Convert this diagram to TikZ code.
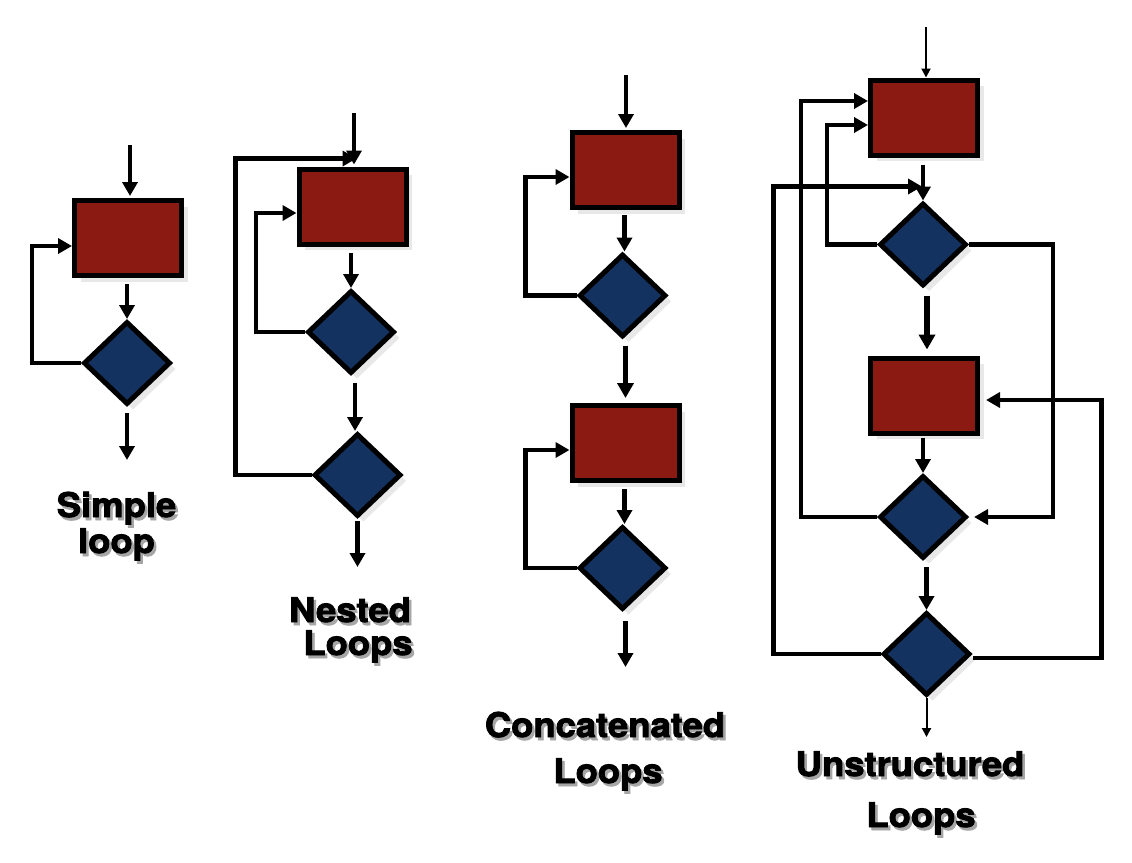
\documentclass[tikz,border=0pt]{standalone}
\usepackage{fontspec}
\setmainfont{TeX Gyre Heros}
\newfontfamily\lblfont{texgyreheros-bold.otf}[FakeBold=2.4]
\usetikzlibrary{shapes.geometric,arrows.meta,shadows,calc}
\definecolor{boxred}{RGB}{139,26,19}
\definecolor{diablue}{RGB}{19,50,95}
\definecolor{shadowgray}{RGB}{232,232,232}
\tikzset{
  boxshadow/.style={drop shadow={shadow xshift=6pt, shadow yshift=-6pt, fill=shadowgray, opacity=1}},
  procbox/.style={rectangle, draw=black, line width=5pt, fill=boxred,
    minimum width=107pt, minimum height=75pt, inner sep=0pt, boxshadow},
  decide/.style={diamond, draw=black, line width=5pt, fill=diablue, line join=miter,
    minimum width=87pt, minimum height=83pt, inner sep=0pt, boxshadow},
  conn/.style={line width=4.8pt, line join=miter, -{Triangle[length=14pt,width=15pt]}},
  thickconn/.style={line width=5.5pt, -{Triangle[length=15pt,width=16pt]}},
  thinconn/.style={line width=2pt, -{Triangle[length=9pt,width=9pt]}},
  lbl/.style={font=\lblfont\fontsize{34}{34}\selectfont, anchor=base, inner sep=0pt},
  lblshadow/.style={lbl, text=black!35},
}
\newcommand\mylbl[4]{%
  \node[lblshadow] (#1-sh) at (#2+2.5,#3+3) {\scalebox{1.07}[1]{#4}};
  \node[lbl] (#1) at (#2,#3) {\scalebox{1.07}[1]{#4}};}
\begin{document}
\begin{tikzpicture}[x=1pt,y=-1pt]
\useasboundingbox (0,0) rectangle (1132,862);
\fill[white] (0,0) rectangle (1132,862);

% ---------- Simple loop ----------
\node[procbox] (r1) at (128,238) {};
\node[decide] (d1) at (127,363) {};
\coordinate (in1) at (130,145);
\draw[conn, shorten >=2pt] (in1) -- (in1 |- r1.north);
\draw[conn] ($(r1.south -| d1.north)+(0,6)$) -- (d1.north);
\draw[conn] (d1.west) -- ++(-49,0) |- ([yshift=-8pt]r1.west);
\draw[conn] ([yshift=-6pt]d1.south) -- ++(0,47);
\mylbl{l1a}{116.5}{517}{Simple}
\mylbl{l1b}{116.5}{553}{loop}

% ---------- Nested loops ----------
\node[procbox] (r2) at (352.5,206.5) {};
\node[decide] (d2a) at (351,332) {};
\node[decide] (d2b) at (357.5,475) {};
\coordinate (in2) at (354,113);
\draw[conn, shorten >=2pt] (in2) -- (in2 |- r2.north);
\draw[conn] ($(r2.south -| d2a.north)+(0,6)$) -- (d2a.north);
\draw[conn] (d2a.west) -- ++(-49,0) |- ([yshift=-6.5pt]r2.west);
\draw[conn] ($(d2a.south -| d2b.north)+(-2.5,7)$) -- ($(d2b.north)+(-2.5,0)$);
\draw[conn] (d2b.west) -- ++(-76,0) |- ([xshift=4pt,yshift=8pt]r2.north);
\draw[conn] ([yshift=-2pt]d2b.south) -- ++(0,46);
\mylbl{l2a}{350}{622}{Nested}
\mylbl{l2b}{358}{655}{Loops}

% ---------- Concatenated loops ----------
\node[procbox] (r3a) at (625.5,170) {};
\node[decide] (d3a) at (622.5,295.5) {};
\node[procbox] (r3b) at (625.5,443) {};
\node[decide] (d3b) at (622.5,568) {};
\coordinate (in3) at (626,75);
\draw[conn, shorten >=2pt] (in3) -- (in3 |- r3a.north);
\draw[conn] ($(r3a.south -| d3a.north)+(2,5)$) -- ($(d3a.north)+(2,0)$);
\draw[conn] (d3a.west) -- ++(-51,0) |- ([yshift=-7pt]r3a.west);
\draw[thickconn] ($(d3a.south -| r3b.north)+(0,6)$) -- ([yshift=5pt]r3b.north);
\draw[conn] ($(r3b.south -| d3b.north)+(2,6)$) -- ($(d3b.north)+(2,0)$);
\draw[conn] (d3b.west) -- ++(-51,0) |- ([yshift=-7pt]r3b.west);
\draw[conn] ($(d3b.south)+(3,9)$) -- ++(0,46);
\mylbl{l3a}{605}{737}{Concatenated}
\mylbl{l3b}{608}{783}{Loops}

% ---------- Unstructured loops ----------
\node[procbox] (r4a) at (924,117.5) {};
\node[decide] (d4a) at (923,244.5) {};
\node[procbox] (r4b) at (924,395.5) {};
\node[decide] (d4b) at (923,517) {};
\node[decide] (d4c) at (926.5,654) {};
\coordinate (in4) at (926,27);
\draw[thinconn] (in4) -- (in4 |- r4a.north);
\draw[conn] ($(r4a.south -| d4a.north)+(0,7)$) -- (d4a.north);
\draw[conn] (d4a.west) -- ++(-50,0) |- ([yshift=-7.5pt]r4a.west);
\draw[conn] (d4b.west) -- ++(-76,0) |- ([yshift=16.5pt]r4a.west);
\draw[conn] (d4c.west) -- ++(-107,0) |- ([xshift=-1pt,yshift=14pt]d4a.north);
\draw[thickconn] ($(d4a.south)+(4,7)$) -- ($(r4b.north -| d4a.south)+(4,-6)$);
\draw[conn] (d4a.east) -- ++(84,0) |- ([xshift=5pt]d4b.east);
\draw[conn] ($(r4b.south -| d4b.north)+(0,2)$) -- (d4b.north);
\draw[conn] ($(d4b.south -| d4c.north)+(0,6)$) -- (d4c.north);
\draw[conn] ([yshift=-4pt]d4c.east) -- ++(129,0) |- ([xshift=6pt,yshift=-4.5pt]r4b.east);
\draw[thinconn] (d4c.south) -- ++(0,39);
\mylbl{l4a}{910}{776}{Unstructured}
\mylbl{l4b}{921}{827}{Loops}
\end{tikzpicture}
\end{document}
